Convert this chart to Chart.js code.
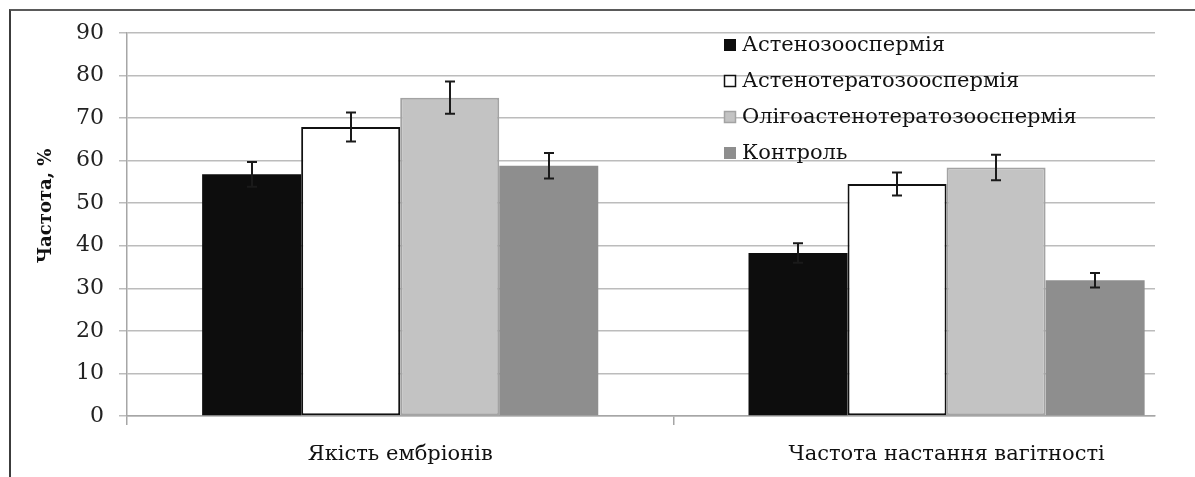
<!DOCTYPE html>
<html>
<head>
<meta charset="utf-8">
<title>Частота, %</title>
<script src="https://cdn.jsdelivr.net/npm/chart.js@4.4.0/dist/chart.umd.min.js"></script>
<style>
  html, body { margin: 0; padding: 0; background: #fff; overflow: hidden; }
  /* outer frame: only top and left edges are visible in the picture */
  #frame { position: absolute; left: 9px; top: 9px; width: 1300px; height: 600px;
           border-left: 2px solid #3c3c3c; border-top: 2px solid #5a5a5a; }
  #wrap { position: absolute; left: 0; top: 0; width: 1195px; height: 477px; }
</style>
</head>
<body>
<div id="frame"></div>
<div id="wrap"><canvas id="chart" width="1195" height="477"></canvas></div>
<script>
// Data
const categories = ['Якість ембріонів', 'Частота настання вагітності'];
const seriesNames = ['Астенозооспермія', 'Астенотератозооспермія', 'Олігоастенотератозооспермія', 'Контроль'];

const asthenoValues = [56.8, 38.3];
const asthenoErrors = [2.9, 2.3];
const teratoValues = [67.9, 54.5];
const teratoErrors = [3.4, 2.7];
const oligoValues = [74.8, 58.4];
const oligoErrors = [3.8, 3.0];
const controlValues = [58.8, 31.9];
const controlErrors = [3.0, 1.7];

const yTickValues = [0, 10, 20, 30, 40, 50, 60, 70, 80, 90];
const yTitle = 'Частота, %';

const FONT = "'DejaVu Serif', 'Liberation Serif', serif";
Chart.defaults.font.family = FONT;
Chart.defaults.color = '#1e1e1e';

// Excel spreads the categories a bit wider than the gridlines go
const xStretch = 1.063;

const stretchX = {
    id: 'stretchX',
    afterLayout(chart) {
        const x = chart.scales.x;
        x._length = x._length * xStretch;
        x._endPixel = x._startPixel + x._length;
    }
};

// Vertical error bars, drawn from each dataset's "errors" list
const errorBars = {
    id: 'errorBars',
    afterDatasetsDraw(chart) {
        const ctx = chart.ctx;
        const y = chart.scales.y;
        ctx.save();
        ctx.strokeStyle = '#1a1a1a';
        ctx.lineWidth = 2;
        chart.data.datasets.forEach((ds, i) => {
            const meta = chart.getDatasetMeta(i);
            meta.data.forEach((bar, j) => {
                const top = y.getPixelForValue(ds.data[j] + ds.errors[j]);
                const bottom = y.getPixelForValue(ds.data[j] - ds.errors[j]);
                const cx = Math.round(bar.x);
                ctx.beginPath();
                ctx.moveTo(cx, top); ctx.lineTo(cx, bottom);
                ctx.moveTo(cx - 5, top); ctx.lineTo(cx + 5, top);
                ctx.moveTo(cx - 5, bottom); ctx.lineTo(cx + 5, bottom);
                ctx.stroke();
            });
        });
        ctx.restore();
    }
};

// Legend inside the plot, over the gridlines, plus the rotated axis title
const overlay = {
    id: 'overlay',
    afterDraw(chart) {
        const ctx = chart.ctx;
        ctx.save();
        ctx.font = '21px ' + FONT;
        ctx.textBaseline = 'middle';
        ctx.textAlign = 'left';
        chart.data.datasets.forEach((ds, i) => {
            const cy = 45 + i * 36;
            ctx.fillStyle = ds.backgroundColor;
            ctx.fillRect(724, cy - 6, 12, 12);
            if (ds.borderWidth) {
                ctx.strokeStyle = ds.borderColor;
                ctx.lineWidth = 1.5;
                ctx.strokeRect(724.5, cy - 5.5, 11, 11);
            }
            ctx.fillStyle = '#111111';
            ctx.fillText(ds.label, 742, cy + 1);
        });

        ctx.translate(46, 206);
        ctx.rotate(-Math.PI / 2);
        ctx.textAlign = 'center';
        ctx.font = 'bold 18px ' + FONT;
        ctx.fillText(yTitle, 0, 0);
        ctx.restore();
    }
};

function makeSet(label, data, errors, fill, border, bw) {
    return {
        label: label,
        data: data,
        errors: errors,
        backgroundColor: fill,
        borderColor: border,
        borderWidth: bw,
        borderSkipped: false
    };
}

const chart = new Chart(document.getElementById('chart'), {
    type: 'bar',
    data: {
        labels: categories,
        datasets: [
            makeSet(seriesNames[0], asthenoValues, asthenoErrors, '#0d0d0d', '#0d0d0d', 0),
            makeSet(seriesNames[1], teratoValues, teratoErrors, '#ffffff', '#111111', 2),
            makeSet(seriesNames[2], oligoValues, oligoErrors, '#c3c3c3', '#a3a3a3', 2),
            makeSet(seriesNames[3], controlValues, controlErrors, '#8e8e8e', '#8e8e8e', 0)
        ]
    },
    options: {
        responsive: false,
        animation: false,
        categoryPercentage: 0.725,
        barPercentage: 1.0,
        layout: { padding: { left: 0, top: 33, right: 40, bottom: 0 } },
        plugins: {
            legend: { display: false },
            tooltip: { enabled: false }
        },
        scales: {
            x: {
                grid: { display: true, drawOnChartArea: false, drawTicks: true, tickLength: 9, color: '#a6a6a6', lineWidth: 1.5 },
                border: { display: true, color: '#a6a6a6', width: 1.5 },
                ticks: { font: { size: 21 }, padding: 17, color: '#111111', maxRotation: 0 },
                afterFit(scale) { scale.height = 61; }
            },
            y: {
                min: 0,
                max: 90,
                afterBuildTicks(scale) { scale.ticks = yTickValues.map(v => ({ value: v })); },
                grid: { color: '#bcbcbc', lineWidth: 1.5, tickLength: 8 },
                border: { display: true, color: '#a6a6a6', width: 1.5 },
                ticks: { font: { size: 22 }, padding: 15, color: '#222222' },
                afterFit(scale) { scale.width = 127; }
            }
        }
    },
    plugins: [stretchX, errorBars, overlay]
});
console.log('chart drawn');
</script>
</body>
</html>
